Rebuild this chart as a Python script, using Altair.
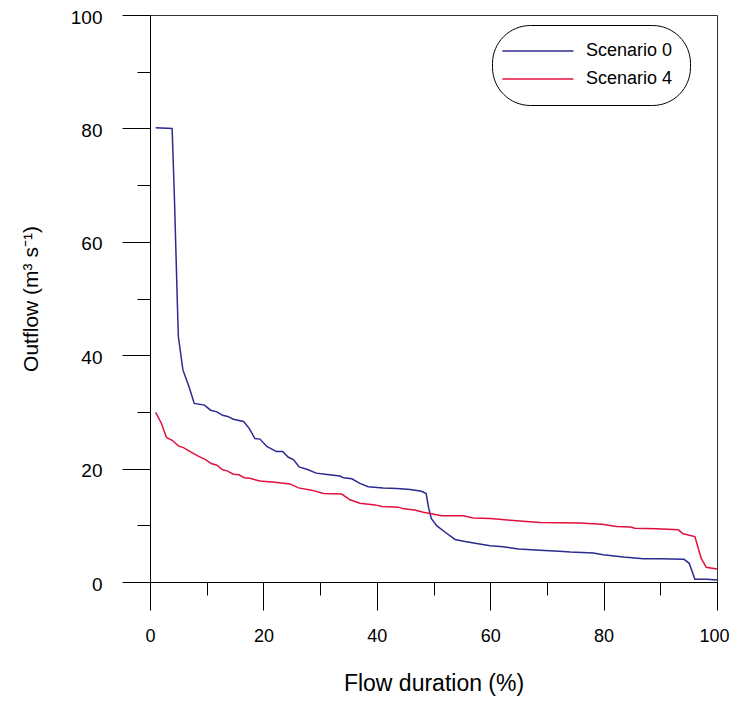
import altair as alt
import pandas as pd

# Scenario 0 flow duration curve
dur_s0 = [1.0, 3.9, 4.3, 4.8, 5.0, 5.8, 6.9, 7.8, 9.6, 10.7, 11.8, 12.8, 13.7, 14.7,
          16.5, 17.5, 18.5, 19.4, 20.6, 22.3, 23.4, 24.4, 25.3, 26.3, 27.9, 29.3,
          30.9, 33.5, 34.1, 35.6, 37.0, 38.5, 41.1, 43.5, 45.9, 47.9, 48.7, 49.1,
          49.6, 50.6, 52.3, 53.8, 55.3, 57.6, 60.0, 62.3, 65.0, 68.8, 72.9, 74.1,
          78.2, 79.9, 83.5, 87.0, 89.9, 94.2, 95.1, 96.1, 98.2, 100.0]
flow_s0 = [80.1, 80.0, 68.0, 50.0, 43.3, 37.4, 34.4, 31.5, 31.2, 30.3, 30.0, 29.4, 29.2, 28.7,
           28.3, 27.1, 25.3, 25.2, 23.9, 23.0, 23.0, 22.0, 21.6, 20.3, 19.8, 19.2,
           19.0, 18.7, 18.4, 18.2, 17.4, 16.8, 16.6, 16.5, 16.3, 16.0, 15.6, 13.3,
           11.2, 9.9, 8.6, 7.5, 7.2, 6.8, 6.4, 6.2, 5.8, 5.6, 5.4, 5.3,
           5.1, 4.8, 4.4, 4.1, 4.1, 4.0, 3.3, 0.5, 0.5, 0.35]

# Scenario 4 flow duration curve
dur_s4 = [1.0, 2.0, 2.9, 3.9, 5.0, 5.9, 7.1, 8.5, 9.8, 10.8, 11.8, 12.8, 13.6, 14.7,
          15.7, 16.6, 17.6, 19.4, 22.0, 24.7, 26.2, 28.5, 30.6, 33.8, 35.3, 37.0,
          39.7, 40.9, 43.8, 44.7, 46.7, 48.2, 49.4, 51.4, 55.3, 57.0, 60.0, 61.1,
          64.6, 68.8, 75.8, 79.7, 82.3, 84.7, 85.5, 89.3, 93.2, 94.0, 96.1, 97.2,
          98.1, 100.0]
flow_s4 = [29.9, 28.0, 25.5, 25.0, 24.0, 23.7, 23.0, 22.2, 21.6, 20.9, 20.6, 19.8, 19.6, 19.0,
           18.9, 18.4, 18.3, 17.8, 17.6, 17.3, 16.6, 16.2, 15.6, 15.5, 14.5, 13.9,
           13.6, 13.3, 13.2, 12.9, 12.7, 12.3, 12.1, 11.7, 11.7, 11.3, 11.2, 11.1,
           10.8, 10.5, 10.4, 10.2, 9.8, 9.7, 9.5, 9.4, 9.2, 8.5, 8.0, 4.2,
           2.6, 2.3]

series_names = ["Scenario 0", "Scenario 4"]
series_colors = ["#2c2a8e", "#e2103c"]

major_ticks = [0, 20, 40, 60, 80, 100]
minor_ticks = [10, 30, 50, 70, 90]

rows = []
for d, f in zip(dur_s0, flow_s0):
    rows.append({"duration": d, "flow": f, "series": series_names[0]})
for d, f in zip(dur_s4, flow_s4):
    rows.append({"duration": d, "flow": f, "series": series_names[1]})
df = pd.DataFrame(rows)

FONT = "Liberation Sans"
xscale = alt.Scale(domain=[0, 100], nice=False, zero=False)
yscale = alt.Scale(domain=[0, 100], nice=False, zero=False)

color = alt.Color(
    "series:N",
    scale=alt.Scale(domain=series_names, range=series_colors),
    legend=alt.Legend(
        title=None,
        orient="none",
        legendX=342,
        legendY=10,
        symbolType="M-2.2,0H7.8",
        symbolSize=202,
        symbolStrokeWidth=1.5,
        labelOffset=59,
        labelFont=FONT,
        labelFontSize=18,
        labelColor="black",
        padding=17,
        rowPadding=10,
        cornerRadius=38,
        strokeColor="black",
        fillColor="white",
    ),
)

major = alt.Chart(df).mark_line(strokeWidth=1.5).encode(
    x=alt.X(
        "duration:Q",
        scale=xscale,
        axis=alt.Axis(
            values=major_ticks, tickSize=28, orient="bottom",
            title="Flow duration (%)", labelPadding=17, titlePadding=27,
            labelFontSize=18,
            labelOffset={"expr": "datum.value == 100 ? -3 : 0"},
            labelFlush=False, labelOverlap=False, grid=False,
        ),
    ),
    y=alt.Y(
        "flow:Q",
        scale=yscale,
        axis=alt.Axis(
            values=major_ticks, tickSize=28, orient="left",
            title="Outflow (m³ s⁻¹)", labelPadding=20, titlePadding=29,
            labelOffset=2,
            labelFlush=False, labelOverlap=False, grid=False,
        ),
    ),
    color=color,
)

minor = alt.Chart(df).mark_line(opacity=0).encode(
    x=alt.X(
        "duration:Q",
        scale=xscale,
        axis=alt.Axis(values=minor_ticks, tickSize=13, orient="bottom",
                      labels=False, domain=False, title=None, grid=False),
    ),
    y=alt.Y(
        "flow:Q",
        scale=yscale,
        axis=alt.Axis(values=minor_ticks, tickSize=13, orient="left",
                      labels=False, domain=False, title=None, grid=False),
    ),
    color=color,
)

chart = (
    alt.layer(major, minor)
    .resolve_axis(x="independent", y="independent")
    .properties(
        width=567,
        height=567,
        autosize=alt.AutoSizeParams(type="none"),
        padding={"left": 142, "top": 7, "right": 14, "bottom": 116},
    )
    .configure_view(stroke="#333", strokeWidth=1)
    .configure_legend(strokeWidth=1)
    .configure_axis(
        domainColor="black",
        domainWidth=1,
        tickColor="black",
        tickWidth=1,
        labelFont=FONT,
        labelFontSize=19,
        labelColor="black",
        titleFont=FONT,
        titleColor="black",
        titleFontWeight="normal",
    )
    .configure_axisX(titleFontSize=23)
    .configure_axisY(titleFontSize=21)
)

chart.save("out.html", embed_options={"renderer": "svg", "actions": False})
